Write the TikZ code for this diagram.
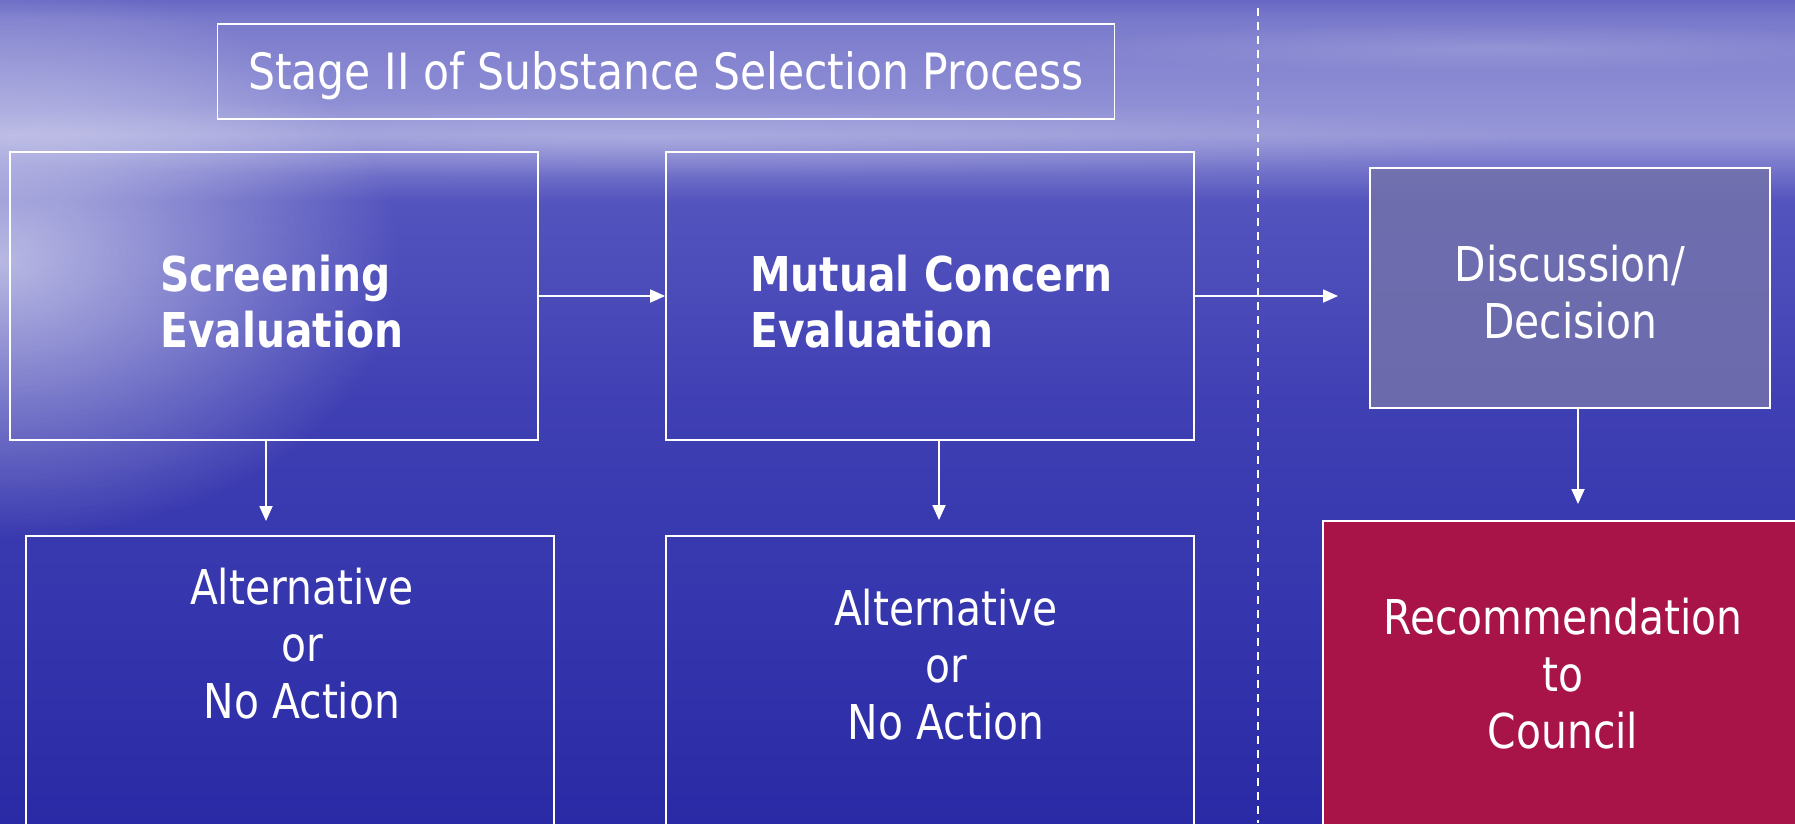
\documentclass[tikz,border=0pt]{standalone}
\usepackage{fontspec}
\newfontfamily\tahoma{DejaVu Sans}[FakeStretch=0.85]
\usetikzlibrary{arrows.meta,fadings}

\definecolor{bgTop}{RGB}{104,104,196}
\definecolor{bgHaze}{RGB}{122,122,204}
\definecolor{bgBand}{RGB}{150,150,216}
\definecolor{bgUpper}{RGB}{84,84,190}
\definecolor{bgMid}{RGB}{64,64,180}
\definecolor{bgBot}{RGB}{42,42,166}
\definecolor{discFill}{RGB}{114,114,172}
\definecolor{recFill}{RGB}{168,20,72}

\pgfdeclareverticalshading{seashade}{100bp}{color(0bp)=(bgBot); color(25bp)=(bgBot); color(50.7bp)=(bgMid); color(62.8bp)=(bgUpper); color(66.8bp)=(bgBand); color(73.8bp)=(bgHaze); color(75bp)=(bgTop); color(100bp)=(bgTop)}
\tikzfading[name=glowfade, inner color=transparent!0, outer color=transparent!100]

\tikzset{
  stagebox/.style={draw=white, line width=1.8pt, inner sep=0pt},
  flowtext/.style={text=white, inner sep=0pt, align=center,
    font=\tahoma\fontsize{48}{57}\selectfont},
  flowbold/.style={flowtext, align=left,
    font=\tahoma\fontsize{48}{56}\selectfont\bfseries},
  flowarrow/.style={draw=white, line width=1.8pt, -{Triangle[length=15pt,width=13pt]}}
}

\begin{document}
\begin{tikzpicture}[x=1pt, y=-1pt]
\useasboundingbox (0,0) rectangle (1795,823);
\clip (0,0) rectangle (1795,823);

% sea background
\shade[shading=seashade] (0,0) rectangle (1795,823);
\fill[white, opacity=0.6, path fading=glowfade] (0,260) ellipse (400 and 280);
\fill[white, opacity=0.2, path fading=glowfade] (650,138) ellipse (900 and 40);
\fill[white, opacity=0.15, path fading=glowfade] (1500,48) ellipse (450 and 25);

% boxes
\node[stagebox, minimum width=897, minimum height=95, flowtext,
  font=\tahoma\fontsize{50}{57}\selectfont, text height=36pt, text depth=0pt]
  (title) at (666,71.5) {Stage II of Substance Selection Process};
\node[stagebox, minimum width=528, minimum height=288] (scr) at (274,296) {};
\node[stagebox, minimum width=528, minimum height=288] (mut) at (930,296) {};
\node[stagebox, fill=discFill, fill opacity=0.85, minimum width=400, minimum height=240] (disc) at (1570,288) {};
\node[stagebox, minimum width=528, minimum height=364] (alt1) at (290,718) {};
\node[stagebox, minimum width=528, minimum height=364] (alt2) at (930,718) {};
\node[stagebox, fill=recFill, minimum width=507, minimum height=379] (rec) at (1576.5,710.5) {};

% texts (anchored at the last baseline)
\node[flowbold, anchor=base west] (scrtxt) at (160,347) {Screening\\Evaluation};
\node[flowbold, anchor=base west] (muttxt) at (750,347) {Mutual Concern\\Evaluation};
\node[flowtext, anchor=base] (disctxt) at (1570,338) {Discussion/\\Decision};
\node[flowtext, anchor=base] (alt1txt) at (302,718) {Alternative\\or\\No Action};
\node[flowtext, anchor=base] (alt2txt) at (946,739) {Alternative\\or\\No Action};
\node[flowtext, anchor=base] (rectxt) at (1563,748) {Recommendation\\to\\Council};

% separator
\coordinate (dtop) at (1258,8);
\coordinate (dbot) at (1258,823);
\path[draw=white, line width=1.6pt, dash pattern=on 8pt off 6pt] (dtop) -- (dbot);

% arrows
\coordinate (t1) at (266,521);
\coordinate (t2) at (939,520);
\coordinate (t3) at (1578,504);
\coordinate (t4) at (1338,296);
\path[flowarrow] (scr) -- (mut);
\path[flowarrow] (mut.east) -- (t4);
\path[flowarrow] (scr.south -| t1) -- (t1);
\path[flowarrow] (mut.south -| t2) -- (t2);
\path[flowarrow] (disc.south -| t3) -- (t3);
\end{tikzpicture}
\end{document}
